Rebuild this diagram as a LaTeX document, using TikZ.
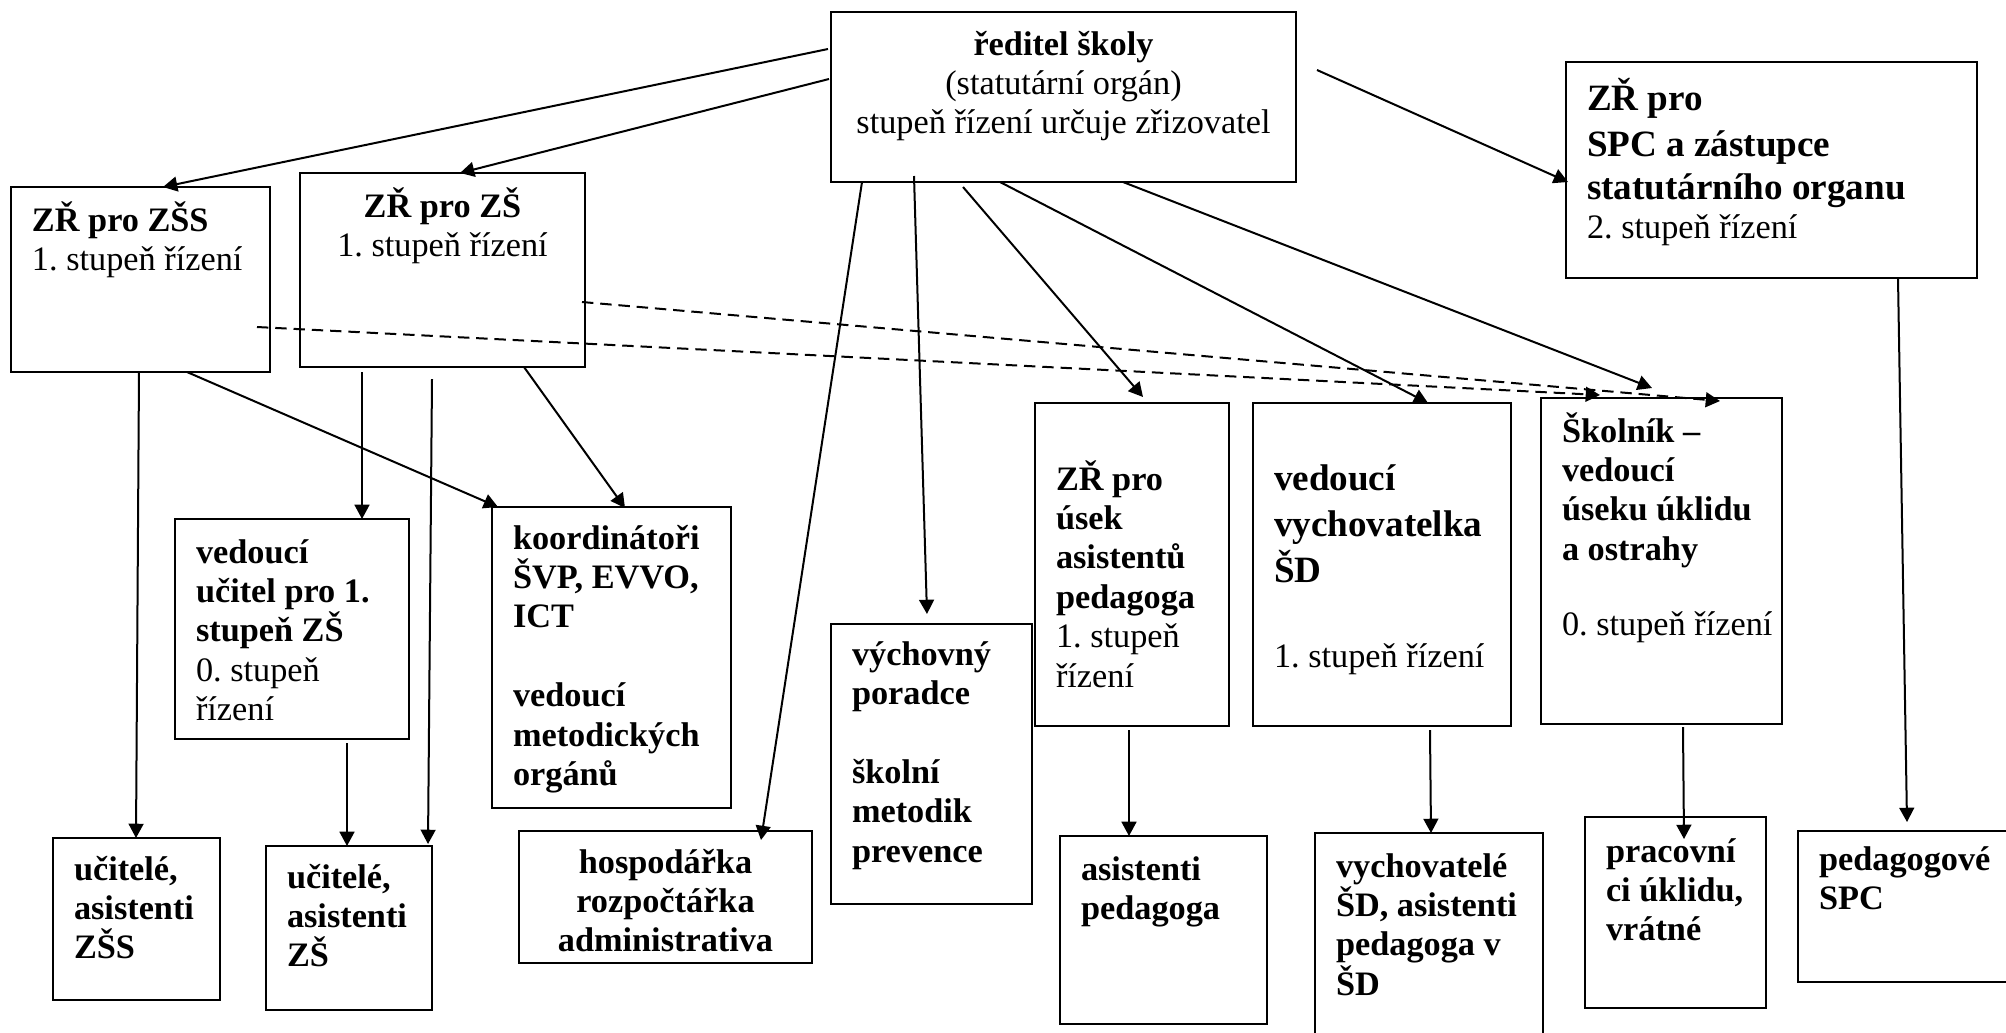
\documentclass[tikz,border=0pt]{standalone}
\usepackage{fontspec}
\setmainfont{Liberation Serif}
\usetikzlibrary{arrows.meta}

\newcommand{\boxhead}{\fontsize{13}{15}\selectfont\bfseries}

\tikzset{
  box/.style={draw, line width=0.7pt, anchor=north west, align=flush left,
    inner xsep=7.35pt, inner ysep=0pt, outer sep=0pt,
    execute at begin node={\rightskip=-2em plus 1fil\relax}},
  cbox/.style={draw, line width=0.7pt, anchor=north west, align=flush center,
    inner xsep=7.35pt, inner ysep=0pt, outer sep=0pt},
  link/.style={line width=0.7pt, -{Triangle[length=5pt, width=5.2pt]}},
  dlink/.style={link, dash pattern=on 4pt off 2.4pt},
}

\begin{document}
\begin{tikzpicture}[x=0.35pt, y=-0.35pt, font={\fontsize{12}{13.8}\selectfont\frenchspacing}]
  \useasboundingbox (0,0) rectangle (2006,1032);

  % Director and deputies
  \node[cbox, text width=148.05pt, text height=15.05pt, text depth=44.45pt] (reditel) at (831,12)
    {\textbf{ředitel školy}\\(statutární orgán)\\stupeň řízení určuje zřizovatel};
  \node[box, text width=75.95pt, text height=15.4pt, text depth=49.35pt] (zss) at (11,187)
    {\textbf{ZŘ pro ZŠS}\\1. stupeň řízení};
  \node[cbox, text width=85.05pt, text height=15.4pt, text depth=52.5pt] (zs) at (300,173)
    {\textbf{ZŘ pro ZŠ}\\1. stupeň řízení};
  \node[box, text width=129.15pt, text height=16.8pt, text depth=58.8pt] (spc) at (1566,62)
    {{\boxhead ZŘ pro\\[1.2pt] SPC a zástupce\\[1.2pt] statutárního organu}\\2. stupeň řízení};

  % Middle row
  \node[box, text width=67.2pt, text height=15.4pt, text depth=61.6pt] (ved) at (175,519)
    {{\bfseries vedoucí\\učitel pro 1.\\stupeň ZŠ}\\0. stupeň\\řízení};
  \node[box, text width=68.95pt, text height=14.7pt, text depth=90.65pt] (koord) at (492,507)
    {\bfseries koordinátoři\\ŠVP, EVVO,\\ICT\\[13.8pt] vedoucí\\metodických\\orgánů};
  \node[box, text width=55.65pt, text height=14.35pt, text depth=83.65pt] (vych) at (831,624)
    {\bfseries výchovný\\poradce\\[13.8pt] školní\\metodik\\prevence};
  \node[box, text width=53.2pt, text height=30.45pt, text depth=82.6pt] (zrap) at (1035,403)
    {{\bfseries ZŘ pro\\úsek\\asistentů\\pedagoga}\\1. stupeň\\řízení};
  \node[box, text width=75.6pt, text height=30.45pt, text depth=82.6pt] (vvych) at (1253,403)
    {{\boxhead vedoucí\\[1.2pt] vychovatelka\\[1.2pt] ŠD}\\[16pt] 1. stupeň řízení};
  \node[box, text width=69.65pt, text height=15.4pt, text depth=98.7pt] (skol) at (1541,398)
    {{\bfseries Školník –\\vedoucí\\úseku úklidu\\a ostrahy}\\[12.5pt] 0. stupeň řízení};

  % Bottom row
  \node[box, text width=43.75pt, text height=14.7pt, text depth=42pt] (ucz) at (53,838)
    {\bfseries učitelé,\\asistenti\\ZŠS};
  \node[box, text width=43.4pt, text height=14.7pt, text depth=42.7pt] (ucs) at (266,846)
    {\bfseries učitelé,\\asistenti\\ZŠ};
  \node[cbox, text width=87.85pt, text height=14.7pt, text depth=31.5pt] (hosp) at (519,831)
    {\bfseries hospodářka\\rozpočtářka\\administrativa};
  \node[box, text width=57.75pt, text height=15.4pt, text depth=50.4pt] (asp) at (1060,836)
    {\bfseries asistenti\\pedagoga};
  \node[box, text width=65.1pt, text height=15.4pt, text depth=55.65pt] (vsd) at (1315,833)
    {\bfseries vychovatelé\\ŠD, asistenti\\pedagoga v\\ŠD};
  \node[box, text width=48.65pt, text height=15.75pt, text depth=51.1pt] (prac) at (1585,817)
    {\bfseries pracovní\\ci úklidu,\\vrátné};
  \node[box, text width=62.3pt, text height=13.65pt, text depth=39.2pt] (pspc) at (1798,831)
    {\bfseries pedagogové\\SPC};

  % Links from the director
  \draw[link] ([shift={(-3,37)}]reditel.north west) -- ([shift={(152,0)}]zss.north west);
  \draw[link] ([shift={(-2,67)}]reditel.north west) -- ([shift={(160,0)}]zs.north west);
  \draw[link] ([shift={(21,58)}]reditel.north east) -- ([shift={(2,120)}]spc.north west);
  \draw[link] ([shift={(31,0)}]reditel.south west) -- ([shift={(242,9)}]hosp.north west);
  \draw[link] ([shift={(83,-6)}]reditel.south west) -- ([shift={(96,-10)}]vych.north west);
  \draw[link] ([shift={(132,5)}]reditel.south west) -- ([shift={(108,-6)}]zrap.north west);
  \draw[link] ([shift={(169,0)}]reditel.south west) -- ([shift={(175,0)}]vvych.north west);
  \draw[link] ([shift={(292,0)}]reditel.south west) -- ([shift={(111,-10)}]skol.north west);

  % Dashed links to the caretaker
  \draw[dlink] ([shift={(246,140)}]zss.north west) -- ([shift={(59,-3)}]skol.north west);
  \draw[dlink] ([shift={(282,129)}]zs.north west) -- ([shift={(179,3)}]skol.north west);

  % Links from the deputies
  \draw[link] ([shift={(128,0)}]zss.south west) -- ([shift={(83,0)}]ucz.north west);
  \draw[link] ([shift={(176,0)}]zss.south west) -- ([shift={(6,0)}]koord.north west);
  \draw[link] ([shift={(62,5)}]zs.south west) -- ([shift={(187,0)}]ved.north west);
  \draw[link] ([shift={(132,12)}]zs.south west) -- ([shift={(162,-2)}]ucs.north west);
  \draw[link] ([shift={(224,0)}]zs.south west) -- ([shift={(133,1)}]koord.north west);
  \draw[link] ([shift={(172,4)}]ved.south west) -- ([shift={(81,0)}]ucs.north west);
  \draw[link] ([shift={(94,4)}]zrap.south west) -- ([shift={(69,0)}]asp.north west);
  \draw[link] ([shift={(177,4)}]vvych.south west) -- ([shift={(116,0)}]vsd.north west);
  \draw[link] ([shift={(142,3)}]skol.south west) -- ([shift={(99,22)}]prac.north west);
  \draw[link] ([shift={(332,0)}]spc.south west) -- ([shift={(109,-9)}]pspc.north west);
\end{tikzpicture}
\end{document}
